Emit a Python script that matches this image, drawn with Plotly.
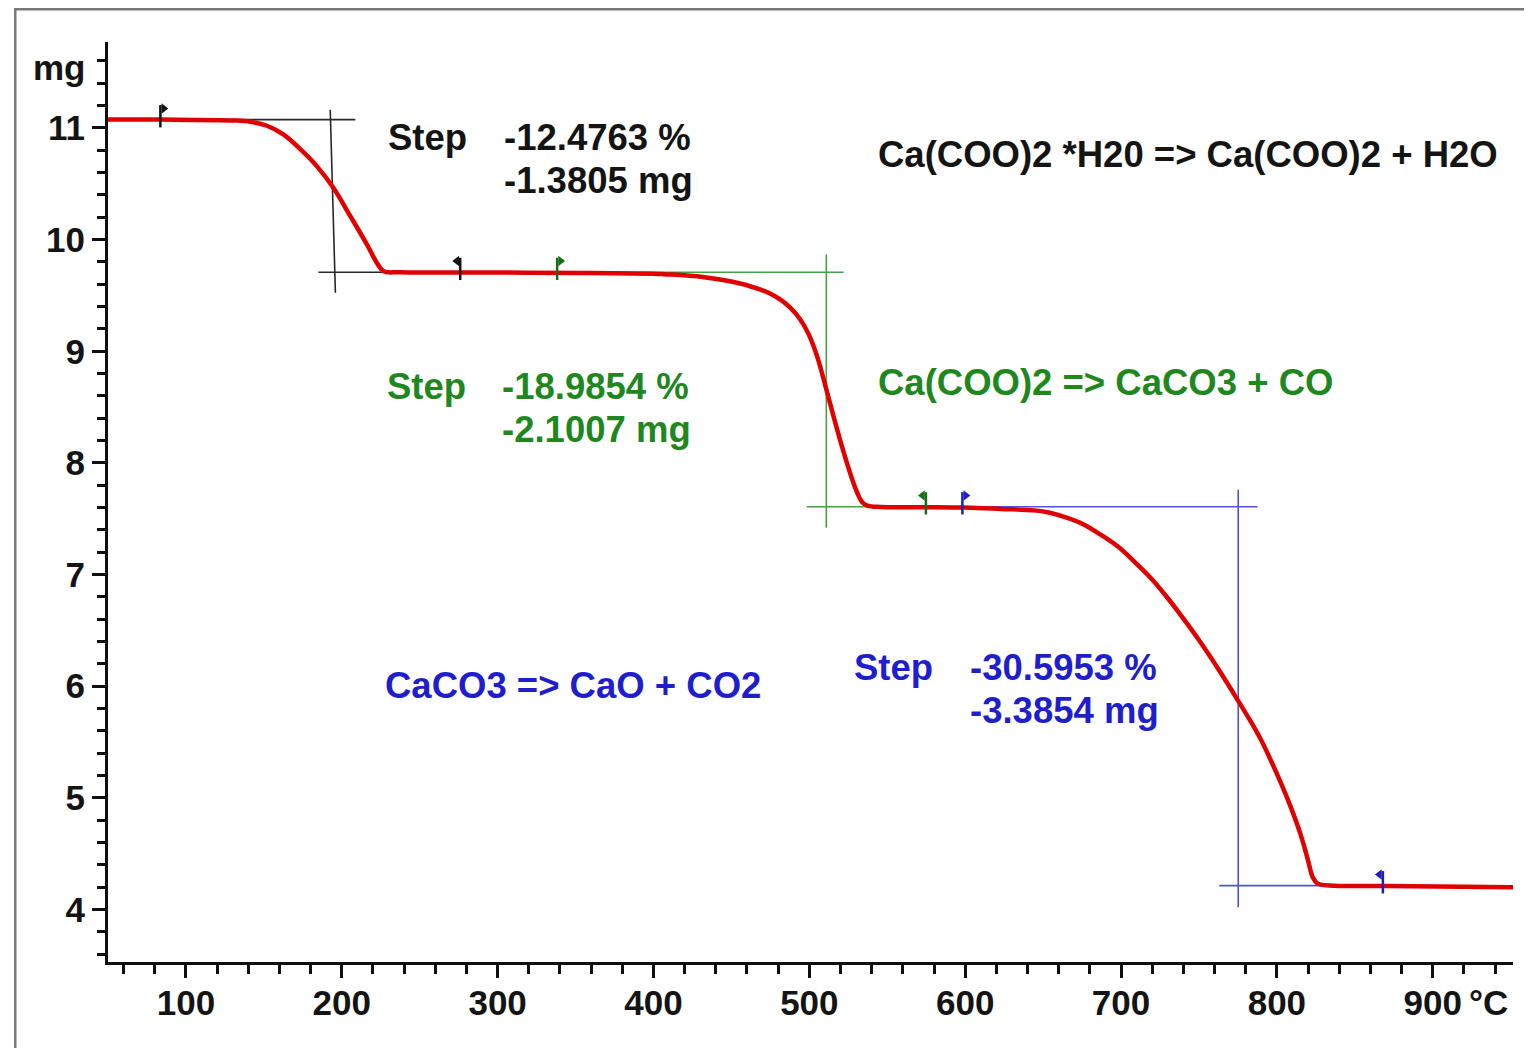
import plotly.graph_objects as go

# ---- data ----
curve_T = [50, 83.6, 130.6, 141.3, 152, 162.7, 173.4, 184.1, 194.8, 205.5, 216.2, 222.6, 226.9,
           237.6, 300, 360, 400, 407, 431.6, 456.3, 468.7, 475.1, 481.5, 487.9, 494.3, 499.7,
           505, 510.4, 515.8, 521.2, 526.5, 530.8, 534, 537.2, 545.8, 580, 600,
           622.8, 644.2, 654.9, 665.6, 676.3, 687, 697.8, 708.4, 719.1, 729.9, 740.5, 751.3,
           762, 772.7, 783.4, 789.8, 796.3, 802.7, 809.1, 815.5, 819.8, 823, 826.2, 836.9, 870, 951.5]
curve_m = [11.076, 11.075, 11.067, 11.056, 11.02, 10.94, 10.81, 10.656, 10.46, 10.21, 9.955, 9.79, 9.716,
           9.708, 9.705, 9.70, 9.695, 9.69, 9.665, 9.605, 9.552, 9.516, 9.462, 9.388, 9.283, 9.149,
           8.954, 8.686, 8.403, 8.134, 7.895, 7.731, 7.647, 7.617, 7.605, 7.604, 7.600,
           7.588, 7.575, 7.552, 7.507, 7.447, 7.357, 7.253, 7.118, 6.969, 6.79, 6.596, 6.387,
           6.163, 5.925, 5.68, 5.52, 5.33, 5.13, 4.91, 4.66, 4.45, 4.29, 4.232, 4.214, 4.210, 4.20]

# evaluation lines (x pairs, y pairs, colour group)
eval_x = [[83.6, 208.7], [185, 276], [192.6, 195.9],
          [338.2, 522], [510.9, 510.9], [498.3, 574.8],
          [598.2, 787.6], [775.2, 775.2], [763, 868]]
eval_y = [[11.075, 11.075], [9.708, 9.708], [11.164, 9.525],
          [9.708, 9.708], [9.866, 7.42], [7.608, 7.608],
          [7.608, 7.608], [7.76, 4.02], [4.214, 4.214]]
eval_group = ["k", "k", "k", "g", "g", "g", "b", "b", "b"]

# evaluation limit flags
flag_T = [83.6, 276, 338.2, 574.8, 598.2, 868]
flag_m = [11.075, 9.708, 9.708, 7.608, 7.608, 4.214]
flag_dir = ["right", "left", "right", "left", "right", "left"]
flag_group = ["k", "k", "g", "g", "b", "b"]

x_ticks = [100, 200, 300, 400, 500, 600, 700, 800, 900]
y_ticks = [4, 5, 6, 7, 8, 9, 10, 11]

step_texts = [("Step", 228.5, 10.913, "k"), ("-12.4763 %", 302.5, 10.913, "k"), ("-1.3805 mg", 302.5, 10.528, "k"),
              ("Step", 227.5, 8.683, "g"), ("-18.9854 %", 301.5, 8.683, "g"), ("-2.1007 mg", 301.5, 8.298, "g"),
              ("Step", 527.5, 6.166, "b"), ("-30.5953 %", 601.5, 6.166, "b"), ("-3.3854 mg", 601.5, 5.78, "b")]
reaction_texts = [("Ca(COO)2 *H20 => Ca(COO)2 + H2O", 542.5, 10.761, "k"),
                  ("Ca(COO)2 => CaCO3 + CO", 542.5, 8.72, "g"),
                  ("CaCO3 => CaO + CO2", 226.5, 6.005, "b")]

line_col = {"k": "rgb(40,40,40)", "g": "rgb(70,160,70)", "b": "rgb(80,80,225)"}
text_col = {"k": "rgb(20,20,20)", "g": "rgb(30,135,30)", "b": "rgb(30,30,205)"}
flag_col = {"k": "rgb(20,20,20)", "g": "rgb(20,110,20)", "b": "rgb(30,30,190)"}

FONT = "Liberation Sans, Arial, sans-serif"

fig = go.Figure()

for xs, ys, g in zip(eval_x, eval_y, eval_group):
    fig.add_trace(go.Scatter(x=xs, y=ys, mode="lines", line=dict(color=line_col[g], width=1.6),
                             hoverinfo="skip", showlegend=False))

fig.add_trace(go.Scatter(x=curve_T, y=curve_m, mode="lines",
                         line=dict(color="rgb(225,0,0)", width=4.5, shape="spline", smoothing=1.0),
                         showlegend=False))

for t, m, d, g in zip(flag_T, flag_m, flag_dir, flag_group):
    fig.add_trace(go.Scatter(x=[t, t], y=[m - 0.07, m + 0.13], mode="lines",
                             line=dict(color=flag_col[g], width=2.5), showlegend=False, hoverinfo="skip"))
    off = 2.2 if d == "right" else -2.2
    fig.add_trace(go.Scatter(x=[t + off], y=[m + 0.1], mode="markers",
                             marker=dict(symbol="triangle-" + d, size=9, color=flag_col[g]),
                             showlegend=False, hoverinfo="skip"))

for txt, x, y, g in step_texts + reaction_texts:
    fig.add_annotation(x=x, y=y, text=txt, showarrow=False, xanchor="left", yanchor="middle",
                       font=dict(family=FONT, size=36.5, color=text_col[g], weight="bold"))

fig.add_annotation(xref="paper", yref="paper", x=-0.014, y=0.972, text="mg", showarrow=False,
                   xanchor="right", yanchor="middle",
                   font=dict(family=FONT, size=35, color="rgb(20,20,20)", weight="bold"))
fig.add_annotation(xref="paper", yref="paper", x=0.967, y=-0.0435, text="°C", showarrow=False,
                   xanchor="left", yanchor="middle",
                   font=dict(family=FONT, size=35, color="rgb(20,20,20)", weight="bold"))

# outer frame
fig.add_shape(type="rect", xref="paper", yref="paper", x0=-0.066, x1=1.2, y0=-0.3, y1=1.0357,
              line=dict(color="rgb(120,120,120)", width=2.5), fillcolor="rgba(0,0,0,0)", layer="below")

axis_common = dict(showgrid=False, zeroline=False, showline=True, linecolor="rgb(15,15,15)", linewidth=3,
                   ticks="outside", tickwidth=3, tickcolor="rgb(15,15,15)",
                   tickfont=dict(family=FONT, size=35, color="rgb(20,20,20)", weight="bold"))

fig.update_xaxes(range=[50, 951.5], tickvals=x_ticks, ticklen=13, ticklabelstandoff=-5,
                 minor=dict(dtick=20, tick0=0, ticklen=9, tickwidth=3, tickcolor="rgb(15,15,15)", ticks="outside"),
                 **axis_common)
fig.update_yaxes(range=[3.53, 11.77], tickvals=y_ticks, ticklen=13,
                 minor=dict(dtick=0.2, tick0=0, ticklen=8, tickwidth=3, tickcolor="rgb(15,15,15)", ticks="outside"),
                 **axis_common)

# page body has an 8 px default margin; margins compensate for it
fig.update_layout(width=1532, height=1048, margin=dict(l=100, r=27, t=34, b=94),
                  paper_bgcolor="white", plot_bgcolor="white", showlegend=False)

fig.write_html("out.html")
